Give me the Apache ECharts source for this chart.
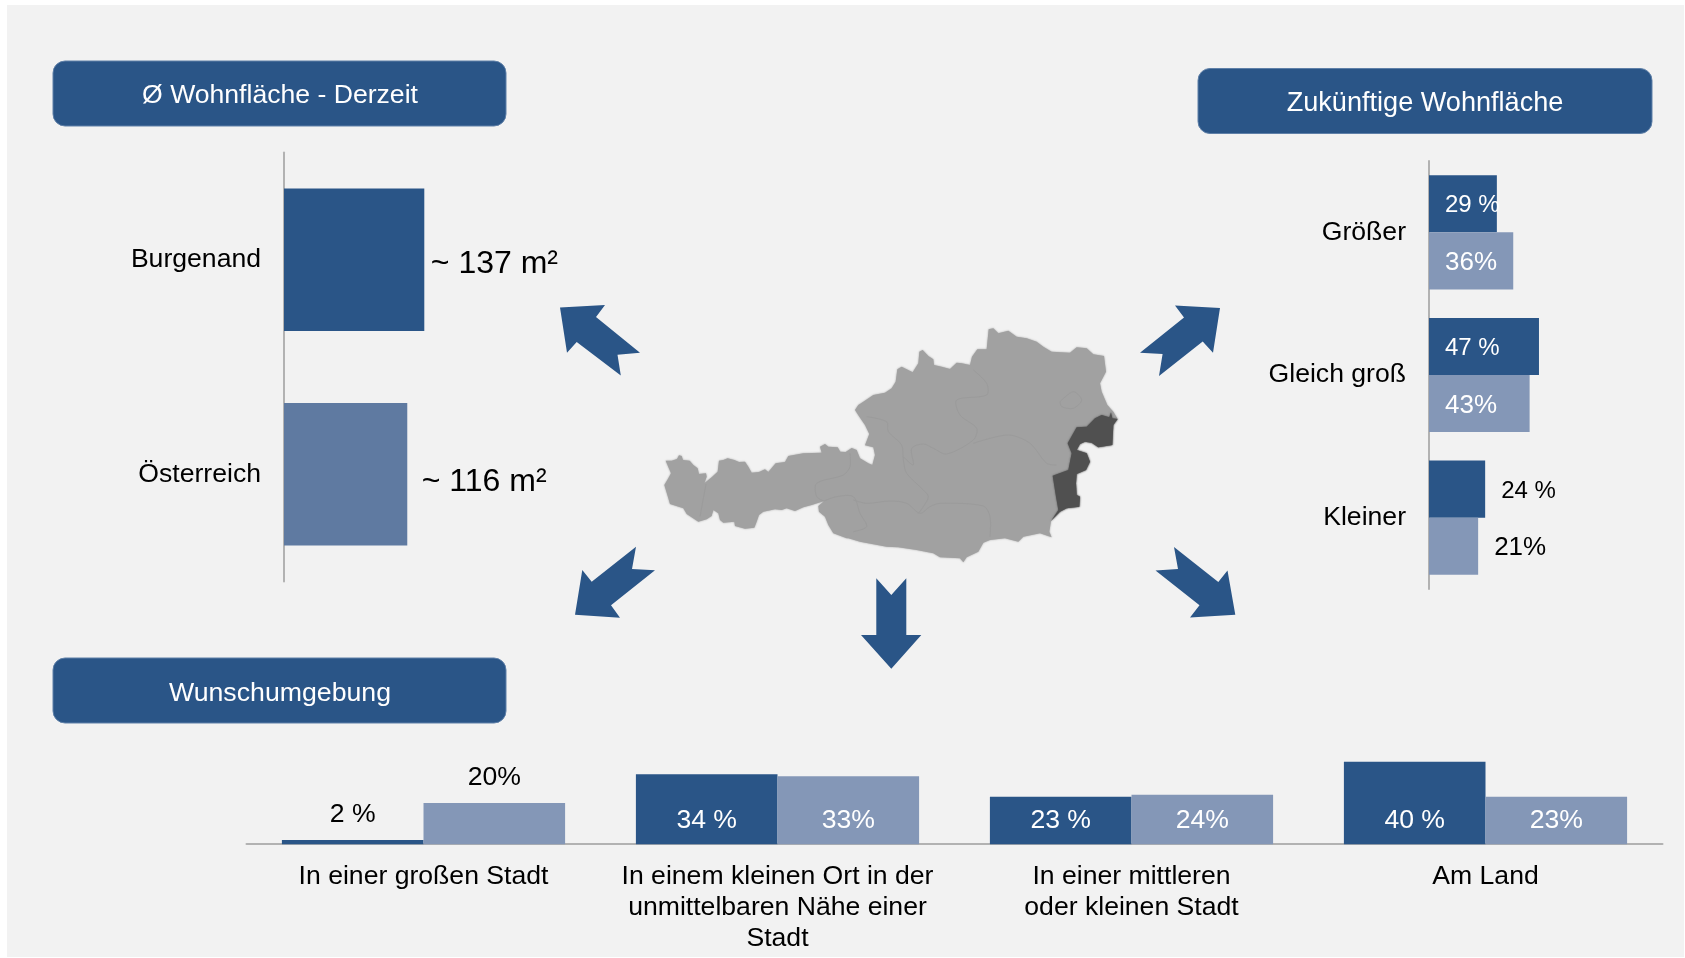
<!DOCTYPE html>
<html lang="de"><head><meta charset="utf-8">
<style>html,body{margin:0;padding:0;background:#fff}#c{width:1685px;height:958px}</style>
<script src="https://cdn.jsdelivr.net/npm/echarts@6/dist/echarts.min.js"></script>
</head><body><div id="c"></div>
<script>
// ---- data ----
const areaCategories = ['Burgenand', 'Österreich'];
const areaValues = [137, 116];
const areaUnit = ' m²';
const futureCategories = ['Größer', 'Gleich groß', 'Kleiner'];
const futureBurgenland = [29, 47, 24];
const futureAustria = [36, 43, 21];
const wishCategories = ['In einer großen Stadt', 'In einem kleinen Ort in der\nunmittelbaren Nähe einer\nStadt', 'In einer mittleren\noder kleinen Stadt', 'Am Land'];
const wishBurgenland = [2, 34, 23, 40];
const wishAustria = [20, 33, 24, 23];
const headers = ['Ø Wohnfläche - Derzeit', 'Zukünftige Wohnfläche', 'Wunschumgebung'];

// ---- decoration shapes (not data) ----
const arrowShapes = [
 [[560,307.6],[605,305],[596,317],[640,352.7],[617.5,354.7],[620.8,375.6],[576.7,342],[567,352.7]],
 [[1220,307.9],[1175,305.6],[1184,317.5],[1140,352.7],[1162.6,354],[1159,376],[1202.7,341.6],[1213,352.7]],
 [[575,614.7],[582.3,570],[591.7,581.7],[636,546.7],[632,569],[655,570.3],[611,605.3],[620,617.7]],
 [[1235.3,614.8],[1227.5,570.4],[1218.3,582],[1174,547],[1178,569],[1155.5,570.4],[1199.5,605.3],[1190,617.5]],
 [[876.3,578.3],[891.3,595],[906.3,578.3],[906.3,635],[921.3,635],[891.3,668.7],[861,635],[876.3,635]]
];
const outlineWestTop = [[32,92],[50,92],[66,87],[72,76],[80,78],[84,90],[104,92],[115,105],[128,115],[132,132],[153,130],[155,140],[148,160],[170,142],[188,125],[192,92],[205,90],[218,85],[238,90],[252,96],[270,95],[280,110],[290,128],[312,126],[330,118],[340,126],[362,100],[390,96],[400,78],[445,70],[500,68],[495,50],[510,42],[520,50],[548,52],[556,65],[572,66],[590,54],[605,60],[615,85],[640,100],[652,105],[660,75],[655,52]];
const outlineEast = [[45,376],[58,342],[45,315],[28,290],[15,270],[25,255],[40,245],[70,225],[105,218],[125,205],[137,185],[142,148],[155,140],[170,148],[188,157],[205,130],[208,95],[218,90],[235,108],[250,118],[252,135],[275,140],[300,147],[320,128],[335,130],[360,135],[366,110],[382,88],[410,88],[416,28],[430,25],[445,40],[475,32],[500,50],[530,55],[560,65],[580,80],[605,95],[660,98],[680,82],[710,85],[730,103],[762,108],[768,155],[750,190],[755,215],[772,255],[790,275],[803,297],[790,315],[787,375],[745,382],[725,368],[705,365],[690,372],[680,390],[710,400],[720,425],[708,450],[680,462],[678,490],[680,525],[690,530],[688,560],[650,565],[630,575],[603,603],[598,635],[605,652],[570,640],[520,650],[505,665],[465,655],[420,660],[400,668],[385,695],[350,712],[340,727],[330,715],[270,712],[250,700],[200,690],[145,682],[110,680],[30,665],[-5,655]];
const outlineWestBottom = [[575,325],[535,310],[520,285],[510,260],[492,245],[490,228],[508,213],[470,225],[445,232],[420,243],[395,235],[380,240],[360,238],[325,245],[312,255],[305,275],[298,293],[270,296],[240,288],[238,275],[205,278],[195,270],[190,250],[175,240],[170,258],[155,268],[130,275],[95,252],[85,235],[45,222],[40,205],[28,165],[40,145],[48,130]];
const burgenlandOutline = [[783,277],[787,295],[803,297],[790,315],[787,375],[745,382],[725,368],[705,365],[690,372],[680,390],[710,400],[720,425],[708,450],[680,462],[678,490],[680,525],[690,530],[688,560],[650,565],[630,575],[603,603],[625,570],[618,530],[608,467],[655,450],[665,400],[653,370],[680,322],[710,320],[735,295],[755,285],[778,292]];
const stateBorders = [
 [[198,552],[180,650]],
 [[630,460],[630,500],[610,525],[530,550],[530,590],[552,603]],
 [[552,603],[590,590],[640,590],[660,640],[680,680],[640,695]],
 [[640,600],[680,610],[750,603],[800,610],[840,640],[870,620],[900,610],[1030,618],[1050,650],[1050,710]],
 [[680,350],[740,365],[745,395],[785,435],[790,480],[800,520],[850,570],[865,590],[850,620],[835,640]],
 [[790,470],[820,495],[815,445],[850,432],[880,445],[920,462],[1000,420],[1010,385],[960,345],[950,300],[1040,285],[1040,250],[1000,210]],
 [[1000,430],[1105,405],[1170,430],[1220,490],[1250,495]],
 [[1260,305],[1300,275],[1325,300],[1300,325],[1265,320],[1260,305]]
];

// ---- styling ----
const FONT = '"Liberation Sans", Arial, sans-serif';
const DARK = '#2a5587', MID = '#5f7aa1', LIGHT = '#8497b7', AXIS = '#b2b2b2', MAP = '#a1a1a1', BG = '#505050';
const crop = (ox, oy) => p => [ox + p[0] / 3, oy + p[1] / 3];
const fromWest = crop(655, 430), fromEast = crop(850, 320), fromFull = crop(640, 300);
const headerBoxes = [[53, 61, 453, 65, 96, 280, 26.6], [1198, 68.5, 454, 65, 103.5, 1425, 27.1], [53, 658, 453, 65, 694, 280, 26.7]];

const graphic = [{type:'rect', silent:true, z:-1, shape:{x:7,y:5,width:1677,height:952}, style:{fill:'#f2f2f2'}}];
headers.forEach((t, i) => {
  const b = headerBoxes[i];
  graphic.push({type:'rect', shape:{x:b[0],y:b[1],width:b[2],height:b[3],r:12}, style:{fill:DARK, stroke:'#5f80a8', lineWidth:1}});
  graphic.push({type:'text', z:5, style:{text:t, x:b[5], y:b[4], align:'center', verticalAlign:'middle', fill:'#fff', font:b[6]+'px '+FONT}});
});
arrowShapes.forEach(a => graphic.push({type:'polygon', shape:{points:a}, style:{fill:DARK}}));
const austria = outlineWestTop.map(fromWest).concat(outlineEast.map(fromEast), outlineWestBottom.map(fromWest));
graphic.push({type:'polygon', shape:{points:austria}, style:{fill:MAP, shadowBlur:2, shadowColor:MAP}});
stateBorders.forEach(l => graphic.push({type:'polyline', shape:{points:l.map(fromFull), smooth:0.3}, style:{fill:null, stroke:'#9b9b9b', lineWidth:1}}));
graphic.push({type:'polygon', shape:{points:burgenlandOutline.map(fromEast)}, style:{fill:BG, shadowBlur:2, shadowColor:BG}});

const LABEL_SIZE = 26.6;
const catAxisV = (idx, cats, margin) => ({type:'category', gridIndex:idx, data:cats, inverse:true,
  axisLine:{show:true, onZero:false, lineStyle:{color:AXIS, width:2}}, axisTick:{show:false},
  axisLabel:{color:'#000', fontFamily:FONT, fontSize:LABEL_SIZE, margin, padding:[2,0,0,0]}});

const futureSeries = (name, values, color, suffix, size) => ({
  type:'bar', name, xAxisIndex:1, yAxisIndex:1, barGap:0, barCategoryGap:'20%', itemStyle:{color},
  data: values.map(v => {
    const out = v <= 24;
    return {value:v, label:{show:true, position: out ? 'right' : 'insideLeft', distance:16, offset:[0,2],
      color: out ? '#000' : '#fff', fontFamily:FONT, fontSize:size, formatter:'{c}'+suffix}};
  })
});
const wishSeries = (name, values, color, suffix) => ({
  type:'bar', name, xAxisIndex:2, yAxisIndex:2, barGap:0, barCategoryGap:'20%', itemStyle:{color},
  data: values.map(v => {
    const out = v < 23;
    return {value:v, label:{show:true, position: out ? 'top' : 'insideBottom', distance: out ? 11.5 : 10.5,
      color: out ? '#000' : '#fff', fontFamily:FONT, fontSize:LABEL_SIZE, formatter:'{c}'+suffix}};
  })
});

const chart = echarts.init(document.getElementById('c'), null, {renderer:'canvas'});
chart.setOption({
  animation:false,
  backgroundColor:'#fff',
  graphic,
  grid:[
    {left:284, top:152.5, width:140.3, height:429},
    {left:1429, top:161, width:117, height:428},
    {left:246.5, top:741.2, width:1416, height:103}
  ],
  xAxis:[
    {type:'value', gridIndex:0, min:-36, max:137, startValue:-36, show:false},
    {type:'value', gridIndex:1, min:0, max:50, show:false},
    {type:'category', gridIndex:2, data:wishCategories,
     axisLine:{show:true, lineStyle:{color:AXIS, width:2}}, axisTick:{show:false},
     axisLabel:{color:'#000', fontFamily:FONT, fontSize:LABEL_SIZE, lineHeight:31, margin:16.5, interval:0}}
  ],
  yAxis:[
    catAxisV(0, areaCategories, 23),
    catAxisV(1, futureCategories, 23),
    {type:'value', gridIndex:2, min:0, max:50, show:false}
  ],
  series:[
    {type:'bar', name:'Ø Wohnfläche', xAxisIndex:0, yAxisIndex:0, barCategoryGap:'33.6%',
     data: areaValues.map((v, i) => ({value:v, itemStyle:{color: i ? MID : DARK},
       label:{show:true, position:'right', distance: i ? 14.5 : 6.5, offset:[0, i ? 8 : 4.5],
         color:'#000', fontFamily:FONT, fontSize:32, formatter:'~ {c}'+areaUnit}}))},
    futureSeries('Burgenland', futureBurgenland, DARK, ' %', 24),
    futureSeries('Österreich', futureAustria, LIGHT, '%', 26),
    wishSeries('Burgenland', wishBurgenland, DARK, ' %'),
    wishSeries('Österreich', wishAustria, LIGHT, '%')
  ]
});
</script></body></html>
